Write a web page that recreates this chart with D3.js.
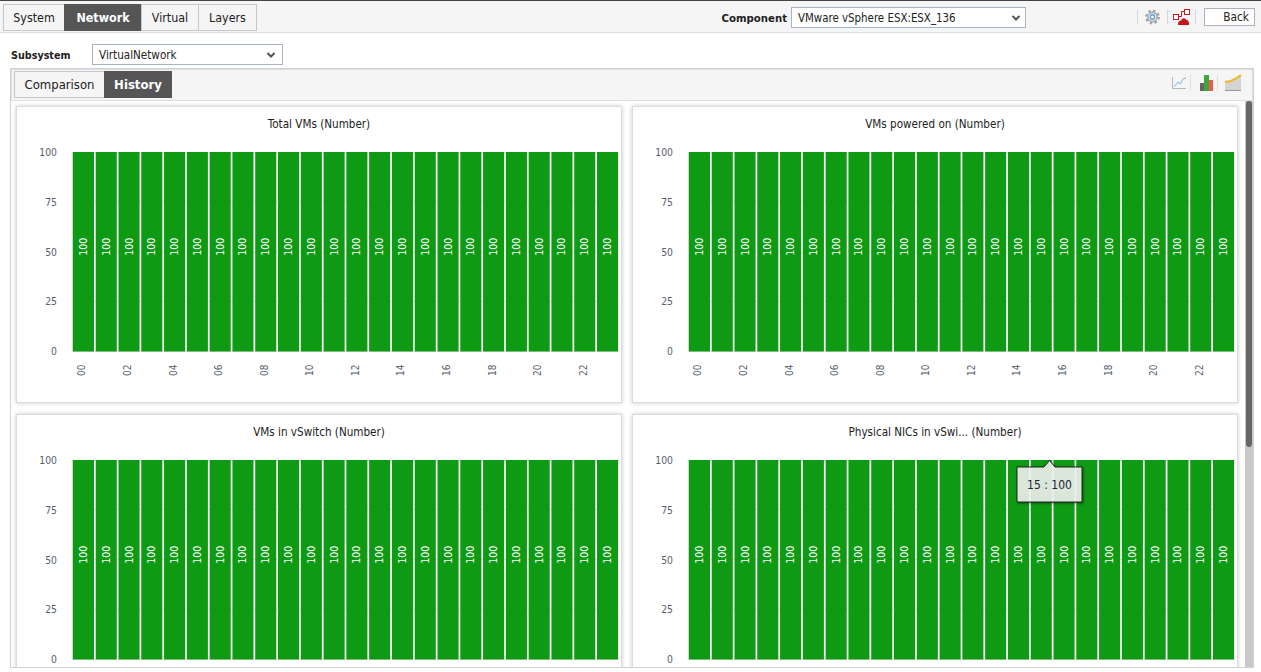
<!DOCTYPE html>
<html>
<head>
<meta charset="utf-8">
<script src="https://cdnjs.cloudflare.com/ajax/libs/d3/7.8.5/d3.min.js"></script>
<style>
html, body { margin: 0; padding: 0; background: #fff; overflow: hidden; }
svg { display: block; }
text { font-family: "DejaVu Sans Condensed", "DejaVu Sans", sans-serif; font-stretch: condensed; }
</style>
</head>
<body>
<svg id="page" width="1261" height="672"></svg>
<script>
// chart values
const hours = ["00","01","02","03","04","05","06","07","08","09","10","11","12","13","14","15","16","17","18","19","20","21","22","23"];
const totalVMs = [100,100,100,100,100,100,100,100,100,100,100,100,100,100,100,100,100,100,100,100,100,100,100,100];
const poweredOn = [100,100,100,100,100,100,100,100,100,100,100,100,100,100,100,100,100,100,100,100,100,100,100,100];
const vmsInSwitch = [100,100,100,100,100,100,100,100,100,100,100,100,100,100,100,100,100,100,100,100,100,100,100,100];
const nicsInSwitch = [100,100,100,100,100,100,100,100,100,100,100,100,100,100,100,100,100,100,100,100,100,100,100,100];
const yTicks = [0,25,50,75,100];
const mainTabs = ["System","Network","Virtual","Layers"];
const subTabs = ["Comparison","History"];

const svg = d3.select("#page");

function label(x, y, txt, size, opts) {
    opts = opts || {};
    return svg.append("text")
        .attr("x", x).attr("y", y)
        .attr("text-anchor", opts.anchor || "start")
        .attr("font-size", size)
        .attr("font-weight", opts.weight || "normal")
        .attr("fill", opts.fill || "#222")
        .text(txt);
}

function box(x, y, w, h, fill, stroke) {
    return svg.append("rect")
        .attr("x", x + 0.5).attr("y", y + 0.5)
        .attr("width", w).attr("height", h)
        .attr("fill", fill).attr("stroke", stroke || "none");
}

function block(x, y, w, h, fill) {
    return svg.append("rect").attr("x", x).attr("y", y).attr("width", w).attr("height", h).attr("fill", fill);
}

function line(d, stroke, width) {
    return svg.append("path").attr("d", d).attr("fill", "none").attr("stroke", stroke).attr("stroke-width", width || 1);
}

// top bar
box(-1, 0, 1263, 32, "#f5f5f5", "#dedede");
block(0, 0, 1261, 1, "#444");

function tabs(names, xs, y, h, active, size) {
    names.forEach((n, i) => {
        const on = n === active;
        box(xs[i], y, xs[i + 1] - xs[i], h, on ? "#555" : "#f5f5f5", on ? "#555" : "#c4c8cc");
        label((xs[i] + xs[i + 1]) / 2 + 0.5, y + h / 2 + 5, n, size, {
            anchor: "middle", weight: on ? "bold" : "normal", fill: on ? "#fff" : "#222"
        });
    });
}
tabs(mainTabs, [3, 64, 141, 198, 256], 4, 26, "Network", 12.4);

function chevron(x, y) {
    line(`M${x - 3.5},${y - 2}L${x},${y + 1.5}L${x + 3.5},${y - 2}`, "#555", 2);
}

// component select
label(787, 22, "Component", 11.3, {anchor: "end", weight: "bold"});
box(791, 7, 234, 20, "#fff", "#a9b4c2");
label(798, 22, "VMware vSphere ESX:ESX_136", 11.4);
chevron(1016, 18);

// toolbar separators and icons
[1137, 1167, 1195].forEach(x => block(x, 10, 1, 14, "#d5d5d5"));
svg.append("circle").attr("cx", 1152.5).attr("cy", 17).attr("r", 6.2).attr("fill", "none").attr("stroke", "#a6a6a6").attr("stroke-width", 2.4).attr("stroke-dasharray", "2.4 2.47");
svg.append("circle").attr("cx", 1152.5).attr("cy", 17).attr("r", 4.6).attr("fill", "#fff").attr("stroke", "#a6a6a6").attr("stroke-width", 1.6);
svg.append("circle").attr("cx", 1152.5).attr("cy", 17).attr("r", 2.2).attr("fill", "#fff").attr("stroke", "#5b9bd8").attr("stroke-width", 1.4);
box(1173, 14, 5, 5, "#fff", "#c8141c");
box(1184, 9, 5, 5, "#fff", "#c8141c");
line("M1178.5,16.5H1181.5V11.5H1184", "#c8141c");
svg.append("path").attr("d", "M1178,25Q1177.5,21 1181,20.5Q1183,16.5 1186,19.5Q1189.5,20.5 1189,25Z").attr("fill", "#c8141c");
box(1204, 8, 50, 17, "#fff", "#aab2bd");
label(1249, 21, "Back", 11.8, {anchor: "end"});

// subsystem row
label(11, 59, "Subsystem", 10.7, {weight: "bold"});
box(92, 44, 190, 20, "#fff", "#a9b4c2");
label(99, 59, "VirtualNetwork", 11.6);
chevron(271, 55);

// inner frame
box(10, 68, 1243, 599, "#fff", "#cfd2d4");
box(11, 69, 1241, 31, "#f5f5f5", "#dedede");
tabs(subTabs, [14, 104, 171], 71, 26, "History", 13);

// chart type icons
line("M1172.5,77V88.5H1186", "#b0b8c0");
line("M1174,87L1178,82L1180,84L1183,79L1186,78", "#7fb2e5");
block(1190, 75, 1, 16, "#ddd");
block(1200, 83, 4, 8, "#666");
block(1204, 75, 5, 16, "#3aa83a");
block(1209, 80, 4, 11, "#f0584c");
block(1217, 75, 1, 16, "#ddd");
svg.append("path").attr("d", "M1225,90V82L1231,81L1235,79L1241,75V90Z").attr("fill", "#d4d4d4");
line("M1225,90.5H1241", "#9a9a9a");
line("M1225,82L1231,81L1235,79L1241,75", "#f2b81e", 2);

// scrollbar
block(1245, 101, 8, 566, "#c9c9c9");
block(1246, 101, 6, 346, "#666").attr("rx", 3);

// one chart panel
function drawPanel(cfg) {
    const width = 547, height = 199.5;
    const panelW = 605, panelH = 296;
    svg.append("rect")
        .attr("x", cfg.x + 0.5).attr("y", cfg.y + 0.5)
        .attr("width", panelW).attr("height", panelH)
        .attr("fill", "#fff").attr("stroke", "#dcdcdc")
        .style("filter", "drop-shadow(0 0 2px rgba(0,0,0,0.22))");

    const g = svg.append("g").attr("transform", `translate(${cfg.x + 56},${cfg.y + 46})`);

    const xScale = d3.scaleBand().domain(hours).range([0, width]).paddingInner(0.075).paddingOuter(0.04);
    const yScale = d3.scaleLinear().domain([0, 100]).range([height, 0]);

    label(cfg.x + panelW / 2 + 0.5, cfg.y + 22, cfg.title, 11.6, {anchor: "middle"});

    // grid and left edge, they show between the bars
    g.selectAll(".gridLine").data(yTicks).join("line")
        .attr("x1", 0).attr("x2", width)
        .attr("y1", d => yScale(d)).attr("y2", d => yScale(d))
        .attr("stroke", "#e4e4e4").attr("shape-rendering", "crispEdges");
    g.append("line").attr("x1", 0).attr("x2", 0).attr("y1", 0).attr("y2", height)
        .attr("stroke", "#dedede").attr("shape-rendering", "crispEdges");

    // y axis
    const yAxis = d3.axisLeft(yScale).tickValues(yTicks).tickSize(0).tickPadding(15);
    g.append("g").call(yAxis)
        .call(a => a.select(".domain").remove())
        .call(a => a.selectAll("text").attr("font-size", 10.3).attr("fill", "#55606c").attr("font-family", null));

    // bars
    g.selectAll(".bar").data(cfg.values).join("rect")
        .attr("class", "bar")
        .attr("x", (d, i) => xScale(hours[i]))
        .attr("y", d => yScale(d))
        .attr("width", xScale.bandwidth())
        .attr("height", d => yScale(0) - yScale(d))
        .attr("fill", "#0e9a13");

    // value labels, rotated inside the bars
    g.selectAll(".valueLabel").data(cfg.values).join("text")
        .attr("class", "valueLabel")
        .attr("transform", (d, i) => `translate(${xScale(hours[i]) + xScale.bandwidth() / 2 + 3.5},${yScale(d / 2) + 4}) rotate(-90)`)
        .attr("font-size", 10.5)
        .attr("fill", "#fff")
        .text(d => d);

    // x axis, every second hour. the lower row falls below the window so it has none
    if (cfg.showHours) {
        const xAxis = d3.axisBottom(xScale).tickValues(hours.filter((h, i) => i % 2 === 0)).tickSize(0);
        const xG = g.append("g").attr("transform", `translate(0,${height})`).call(xAxis);
        xG.select(".domain").remove();
        xG.selectAll("text")
            .attr("font-size", 10).attr("fill", "#55606c").attr("font-family", null)
            .attr("text-anchor", "end")
            .attr("transform", "translate(2,13) rotate(-90)")
            .attr("x", 0).attr("y", 0).attr("dy", 0);
    }
}

drawPanel({x: 16, y: 106, title: "Total VMs (Number)", values: totalVMs, showHours: true});
drawPanel({x: 632, y: 106, title: "VMs powered on (Number)", values: poweredOn, showHours: true});
drawPanel({x: 16, y: 414, title: "VMs in vSwitch (Number)", values: vmsInSwitch, showHours: false});
drawPanel({x: 632, y: 414, title: "Physical NICs in vSwi... (Number)", values: nicsInSwitch, showHours: false});

// frame bottom covers what scrolls past it
block(0, 667, 1261, 5, "#fff");
block(10, 667, 1244, 1, "#cfd2d4");

// tooltip on hour 15 of the last chart
svg.append("path")
    .attr("d", "M1017,467H1044L1049.5,460.5L1055,467H1082V502H1017Z")
    .attr("fill", "#fff").attr("fill-opacity", 0.85)
    .attr("stroke", "#222").attr("stroke-width", 1)
    .style("filter", "drop-shadow(1px 1px 1px rgba(0,0,0,0.5))");
label(1049.5, 488.5, hours[15] + " : " + nicsInSwitch[15], 12, {anchor: "middle", fill: "#223"});
</script>
</body>
</html>
